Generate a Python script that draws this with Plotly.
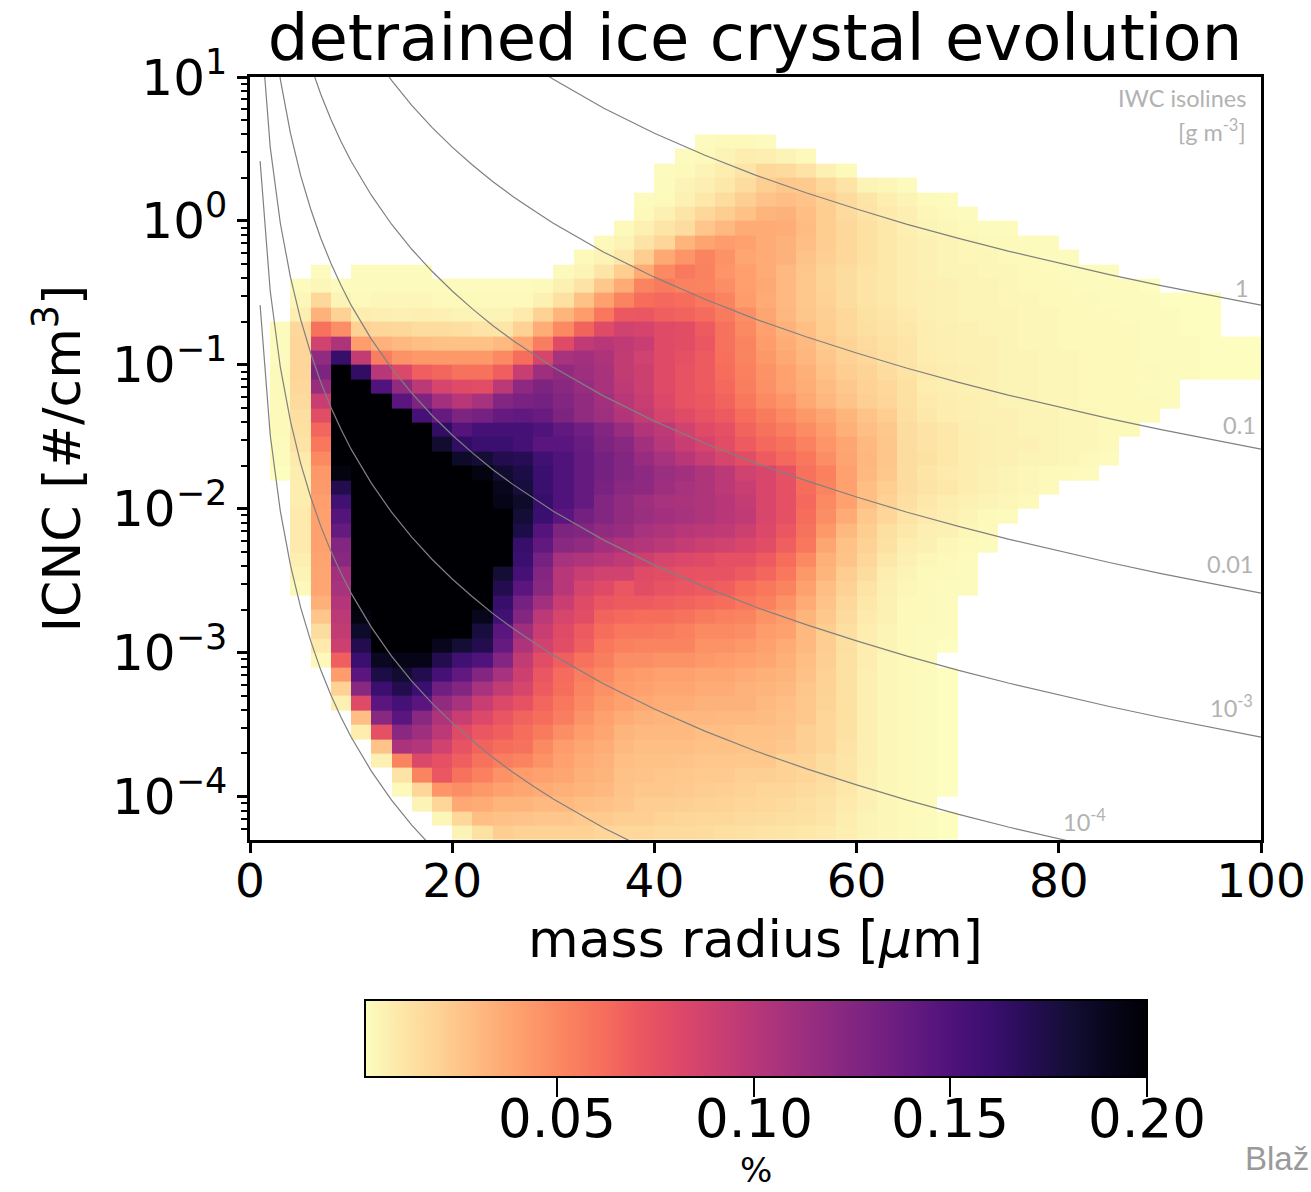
import plotly.graph_objects as go

# ---------- heat map values (unit: 0.001 %), one row per 0.1 decade, top row first ----------
row_first_bin = [22,21,20,20,19,19,18,17,16,3,2,2,2,1,1,1,1,1,1,1,1,1,1,1,2,2,2,2,2,2,2,2,3,3,3,3,3,4,4,4,5,5,6,6,7,7,8,9,10]
row_values = [
 [2,3,3,2],
 [2,3,5,8,7,5,3],
 [2,3,5,8,11,17,16,12,6,3],
 [2,5,7,10,15,21,24,23,17,12,5,4,2],
 [2,3,6,10,15,21,26,28,26,21,16,11,8,5,3,2],
 [3,6,11,17,22,27,32,33,28,22,16,12,9,7,4,3,2],
 [3,6,11,15,25,30,36,36,35,29,22,17,13,10,7,5,4,3,2,2],
 [3,5,12,18,32,39,42,40,36,33,28,22,17,13,10,8,6,5,4,3,3,2,2],
 [3,5,10,22,37,45,52,46,38,36,33,26,21,17,13,10,8,6,5,4,4,3,3,2,2],
 [2,0,2,2,2,2,0,0,0,0,0,0,3,5,11,22,36,50,57,53,45,41,36,30,25,19,15,12,10,8,6,5,5,4,4,3,3,2,2,2],
 [2,4,2,2,2,2,2,2,2,2,2,2,3,6,12,24,36,52,56,53,52,48,41,37,30,24,19,15,12,10,8,7,6,5,5,4,3,3,3,2,2,2,1],
 [4,17,5,3,4,4,4,3,3,3,3,3,6,13,27,40,52,62,64,62,58,52,42,36,30,24,20,15,12,10,8,7,6,5,5,4,4,3,3,3,2,2,2,1,1,1],
 [7,33,20,8,7,6,7,6,5,5,5,9,20,32,42,58,71,72,68,66,63,56,48,38,31,25,21,17,13,11,9,7,6,5,5,5,4,4,3,3,3,2,2,2,1,1],
 [2,17,60,48,20,18,17,15,15,14,12,11,20,35,50,66,80,88,86,80,78,70,60,50,40,33,28,22,17,14,12,10,8,7,6,5,5,4,4,3,3,3,3,2,2,1,1],
 [2,18,88,105,42,33,30,28,27,27,27,30,38,55,80,96,100,96,92,80,78,72,60,52,42,35,30,23,19,16,13,11,8,7,6,6,5,4,4,3,3,3,3,2,2,2,1,1,1],
 [2,18,118,162,95,55,46,44,44,44,44,50,62,85,108,110,105,95,88,80,76,70,61,52,44,37,31,25,20,17,14,11,8,7,6,6,5,5,4,4,3,3,3,2,2,2,1,1,1],
 [3,18,128,200,165,100,82,68,65,60,60,68,92,112,118,112,107,95,90,80,74,70,62,54,46,40,34,27,22,19,15,12,9,8,7,6,5,5,4,4,3,3,3,3,2,2,1,1,1],
 [3,17,115,200,200,150,118,98,85,80,78,98,120,128,122,115,107,97,90,80,74,70,64,55,47,40,35,29,24,20,17,13,8,7,6,6,5,5,4,4,3,3,3,2,2],
 [3,16,92,200,200,200,145,128,110,100,108,125,130,132,125,118,110,100,92,82,74,71,66,58,50,45,37,31,26,21,18,13,9,8,7,6,5,5,4,4,3,3,3,3,2],
 [3,14,78,200,200,200,200,155,140,128,132,140,142,138,128,118,112,103,95,86,80,74,70,62,56,50,44,38,32,26,22,14,10,8,7,6,6,5,5,4,4,3,3,3],
 [3,13,65,200,200,200,200,200,165,148,155,155,155,150,142,135,125,115,103,97,88,80,76,66,60,55,49,42,34,28,24,15,12,10,8,7,6,5,5,4,4,3,3],
 [2,12,58,200,200,200,200,200,182,165,160,160,155,145,145,138,128,122,110,100,92,86,78,70,64,60,53,45,38,30,25,15,12,10,8,7,6,6,5,4,4,3],
 [2,9,50,200,200,200,200,200,200,185,180,172,170,158,150,140,132,125,115,108,100,92,85,78,70,64,58,48,39,31,25,15,13,10,8,7,6,5,5,4,3,2],
 [1,8,44,195,200,200,200,200,200,200,195,182,175,160,150,140,132,125,120,114,110,104,98,88,84,75,60,54,40,30,24,15,11,9,8,6,5,4,3,3,2],
 [8,43,172,200,200,200,200,200,200,200,190,178,160,150,140,130,122,120,112,108,104,98,92,84,76,62,52,40,28,22,15,12,10,8,6,5,4,3],
 [8,41,158,200,200,200,200,200,200,200,192,185,162,150,140,125,118,112,108,106,104,100,94,84,76,64,50,40,28,20,14,10,8,6,5,4,3],
 [9,40,148,200,200,200,200,200,200,200,200,180,160,145,133,125,118,114,110,108,104,100,96,84,76,62,48,36,24,18,12,9,7,5,3,2],
 [9,40,140,200,200,200,200,200,200,200,200,175,148,128,125,118,115,108,104,100,98,96,90,82,72,60,44,30,22,14,10,7,6,4,3],
 [9,40,125,200,200,200,200,200,200,200,200,162,142,122,118,110,105,102,98,94,90,88,84,78,68,58,38,27,20,13,8,6,4,3,2],
 [7,39,122,200,200,200,200,200,200,200,200,160,132,108,104,100,96,90,85,82,80,76,76,70,62,50,34,26,18,10,6,4,3,2],
 [5,38,110,200,200,200,200,200,200,200,180,155,125,100,92,88,88,80,78,75,74,74,70,65,58,44,32,22,15,8,5,3,3,2],
 [3,38,108,200,200,200,200,200,200,200,172,145,122,100,86,80,72,78,74,72,70,68,62,58,52,40,28,20,12,7,4,3,2,2],
 [34,102,200,200,200,200,200,200,200,162,132,110,92,80,72,70,70,68,66,64,62,58,54,46,36,26,17,10,6,3,3,2],
 [25,98,195,200,200,200,200,200,190,158,125,98,85,78,66,64,62,62,60,56,54,52,46,42,32,24,16,9,6,3,3,2],
 [15,95,185,200,200,200,200,200,178,145,112,92,80,70,62,58,58,56,54,50,50,48,42,40,30,22,14,8,5,3,2,2],
 [9,90,172,200,200,200,190,180,172,140,105,88,78,68,58,54,52,52,52,46,46,44,40,36,30,22,14,8,5,3,2,1],
 [3,68,160,188,192,192,172,158,150,125,95,78,68,60,55,48,48,46,46,44,42,40,38,34,28,21,13,8,4,3,2],
 [42,145,175,182,172,155,142,125,108,90,72,63,55,50,44,42,40,40,38,38,36,34,32,27,20,13,7,4,3,2,1],
 [20,122,160,172,160,135,125,108,95,85,70,62,52,47,42,40,38,38,36,36,33,32,30,25,20,13,7,4,3,2,1],
 [6,80,145,155,145,118,108,92,82,75,65,58,50,44,40,37,35,35,33,33,33,30,28,24,19,13,7,4,3,2,1],
 [28,122,145,122,105,92,82,73,66,62,55,46,40,36,33,32,31,31,30,30,29,27,24,18,13,7,4,3,2,1],
 [8,76,122,112,98,80,72,68,62,56,48,42,38,32,30,30,30,28,28,27,27,26,21,18,13,7,4,3,2,1],
 [26,106,102,88,74,66,62,60,50,42,38,35,30,28,28,28,27,27,26,26,24,21,18,12,7,4,3,2,1],
 [6,52,82,76,68,60,55,52,46,40,36,33,28,27,27,26,25,25,24,24,20,19,15,11,7,4,3,2,1],
 [12,52,72,60,54,46,42,40,38,34,32,27,26,25,24,23,23,21,21,20,18,15,11,6,4,3,2,1],
 [3,18,45,48,44,40,38,36,34,32,30,26,24,24,23,22,21,20,18,18,16,14,10,6,4,3,2,1],
 [5,18,37,36,32,32,30,30,28,27,25,22,22,21,20,19,18,17,16,14,12,9,6,4,3,2],
 [4,17,28,27,26,25,25,23,23,21,21,19,18,17,17,16,15,14,13,11,8,5,4,3,2,1],
 [5,13,22,20,20,20,20,18,17,17,16,16,15,14,13,12,11,10,9,7,5,4,3,2,1],
]

# ---------- IWC isolines ----------
iso_radius_1   = [28,30,35,40,45,50,55,60,65,70,75,80,85,90,95,100]
iso_icnc_1     = [11.9,9.64,6.07,4.07,2.86,2.08,1.57,1.21,.948,.759,.617,.509,.424,.357,.304,.26]
iso_radius_01  = [12,14,16,18,20,22,24,26,28,30,35,40,45,50,55,60,65,70,75,80,85,90,95,100]
iso_icnc_01    = [15.1,9.49,6.36,4.47,3.26,2.45,1.88,1.48,1.19,.964,.607,.407,.286,.208,.157,.121,.0948,.0759,.0617,.0509,.0424,.0357,.0304,.026]
iso_radius_001 = [6,7,8,9,10,12,14,16,18,20,22,24,26,28,30,35,40,45,50,55,60,65,70,75,80,85,90,95,100]
iso_icnc_001   = [12.06,7.59,5.09,3.57,2.6,1.51,.949,.636,.447,.326,.245,.188,.148,.119,.0964,.0607,.0407,.0286,.0208,.0157,.0121,.00948,.00759,.00617,.00509,.00424,.00357,.00304,.0026]
iso_radius_e3  = [2,3,4,5,6,7,8,9,10,12,14,16,18,20,22,24,26,28,30,35,40,45,50,55,60,65,70,75,80,85,90,95,100]
iso_icnc_e3    = [32.55,9.64,4.07,2.08,1.21,.759,.509,.357,.26,.151,.0949,.0636,.0447,.0326,.0245,.0188,.0148,.0119,.00964,.00607,.00407,.00286,.00208,.00157,.00121,.000948,.000759,.000617,.000509,.000424,.000357,.000304,.00026]
iso_radius_e4  = [1,2,3,4,5,6,7,8,9,10,12,14,16,18,20,22,24,26,28,30,35,40,45,50,55,60,65,70,75,80,85]
iso_icnc_e4    = [26.04,3.26,.964,.407,.208,.121,.0759,.0509,.0357,.026,.0151,.00949,.00636,.00447,.00326,.00245,.00188,.00148,.00119,.000964,.000607,.000407,.000286,.000208,.000157,.000121,.0000948,.0000759,.0000617,.0000509,.0000424]
iso_radius_e5  = [1,2,3,4,5,6,7,8,9,10,12,14,16,18,20,22,24,26,28,30,35,40]
iso_icnc_e5    = [2.604,.326,.0964,.0407,.0208,.0121,.00759,.00509,.00357,.0026,.00151,.000949,.000636,.000447,.000326,.000245,.000188,.000148,.000119,.0000964,.0000607,.0000407]
iso_radius_e6  = [1,2,3,4,5,6,7,8,9,10,12,14,16,18,20]
iso_icnc_e6    = [.2604,.0326,.00964,.00407,.00208,.00121,.000759,.000509,.000357,.00026,.000151,.0000949,.0000636,.0000447,.0000326]

x_tick_values = [0,20,40,60,80,100]
y_tick_values = [1e-4,1e-3,1e-2,1e-1,1,10]
y_tick_labels = ["10<sup>−4</sup>","10<sup>−3</sup>","10<sup>−2</sup>","10<sup>−1</sup>","10<sup>0</sup>","10<sup>1</sup>"]
cbar_tick_values = [0.05,0.10,0.15,0.20]
cbar_tick_labels = ["0.05","0.10","0.15","0.20"]

magma_r = [[0,"#fcfdbf"],[.05,"#fde5a7"],[.1,"#fecf92"],[.15,"#feb77e"],[.2,"#fe9f6d"],[.25,"#fb8761"],[.3,"#f7705c"],
           [.35,"#ec5860"],[.4,"#de4968"],[.45,"#cb3f71"],[.5,"#b73779"],[.55,"#a1307e"],[.6,"#8c2981"],[.65,"#782281"],
           [.7,"#641a80"],[.75,"#4f127b"],[.8,"#3b0f70"],[.85,"#260d55"],[.9,"#140e36"],[.95,"#07061c"],[1,"#000004"]]

# ---------- assemble grid ----------
n_bins = 50
z = []
for first, vals in zip(row_first_bin, row_values):
    row = [None]*n_bins
    for i, v in enumerate(vals):
        if v:
            row[first+i] = v/1000
    z.append(row)
z = z[::-1]
x_edges = [2*i for i in range(n_bins+1)]
y_edges = [10**((-43+i)/10) for i in range(len(z)+1)]

# pixel helpers
L, R, T, B = 250, 1261, 77, 840
W, H = 1311, 1192
ZMIN, ZMAX = 0.0012, 0.2
BAR_L, BAR_LEN, BAR_T, BAR_H = 365, 782, 1000, 77
def px(x): return (x-L)/(R-L)
def py(y): return (B-y)/(B-T)

fig = go.Figure()
fig.add_trace(go.Heatmap(
    x=x_edges, y=y_edges, z=z, zmin=ZMIN, zmax=ZMAX, colorscale=magma_r, hoverongaps=False,
    colorbar=dict(orientation="h", lenmode="pixels", len=BAR_LEN, thicknessmode="pixels", thickness=BAR_H,
                  x=px(BAR_L), xanchor="left", y=py(BAR_T), yanchor="top", xpad=0, ypad=0,
                  outlinecolor="black", outlinewidth=2,
                  tickmode="array", tickvals=cbar_tick_values, showticklabels=False,
                  ticks="outside", ticklen=19, tickwidth=2, tickcolor="black")))

isolines = [(iso_radius_1, iso_icnc_1),(iso_radius_01, iso_icnc_01),(iso_radius_001, iso_icnc_001),
            (iso_radius_e3, iso_icnc_e3),(iso_radius_e4, iso_icnc_e4),(iso_radius_e5, iso_icnc_e5),(iso_radius_e6, iso_icnc_e6)]
for rr, nn in isolines:
    fig.add_trace(go.Scatter(x=rr, y=nn, mode="lines", line=dict(color="#808080", width=1.2), showlegend=False, hoverinfo="skip"))

GREY = "#b2b2b2"
notes = [("IWC isolines",1248,98,"right"),("[g m<sup>-3</sup>]",1248,130,"right"),("1",1251,288,"right"),
         ("0.1",1258,425,"right"),("0.01",1255,564,"right"),("10<sup>-3</sup>",1255,706,"right"),("10<sup>-4</sup>",1108,820,"right")]
annots = [dict(text=t, x=px(x), y=py(y), xref="paper", yref="paper", xanchor=a, yanchor="middle", showarrow=False,
               font=dict(family="Lato, Open Sans", size=23.5, color=GREY)) for t,x,y,a in notes]
annots.append(dict(text="Blaž", x=px(1243), y=py(1158), xref="paper", yref="paper", xanchor="left", yanchor="middle",
                   showarrow=False, font=dict(family="Liberation Sans", size=33, color="#9a9a9a")))
# colourbar tick labels and unit, placed on the colourbar's own value scale
for v, lab in zip(cbar_tick_values, cbar_tick_labels):
    xp = BAR_L + (v-ZMIN)/(ZMAX-ZMIN)*BAR_LEN
    annots.append(dict(text=lab, x=px(xp), y=py(1118), xref="paper", yref="paper", xanchor="center", yanchor="middle",
                       showarrow=False, font=dict(size=53, color="black")))
annots.append(dict(text="%", x=px(756), y=py(1170), xref="paper", yref="paper", xanchor="center", yanchor="middle",
                   showarrow=False, font=dict(size=34, color="black")))

fig.update_layout(
    width=W, height=H, paper_bgcolor="white", plot_bgcolor="white",
    margin=dict(l=L, r=W-R, t=T, b=H-B, pad=0, autoexpand=False), showlegend=False,
    font=dict(family="DejaVu Sans", color="black"),
    title=dict(text="detrained ice crystal evolution", x=755/W, xanchor="center", y=1-38/H, yanchor="middle",
               font=dict(size=64, color="black")),
    annotations=annots,
    xaxis=dict(range=[0,100], tickmode="array", tickvals=x_tick_values, ticks="outside", ticklen=10, tickwidth=2.5,
               tickcolor="black", showgrid=False, zeroline=False, showline=True, linecolor="black", linewidth=2.5, mirror=True,
               tickfont=dict(size=47), ticklabelstandoff=-12,
               title=dict(text="mass radius [<i>μ</i>m]", font=dict(size=52), standoff=14)),
    yaxis=dict(type="log", range=[-4.3,1], tickmode="array", tickvals=y_tick_values, ticktext=y_tick_labels, ticks="outside",
               ticklen=10, tickwidth=2.5, tickcolor="black", showgrid=False, zeroline=False, showline=True, linecolor="black",
               linewidth=2.5, mirror=True, tickfont=dict(size=50),
               minor=dict(ticks="outside", ticklen=6, tickwidth=2, tickcolor="black", dtick="D1", showgrid=False),
               title=dict(text="ICNC [#/cm<sup>3</sup>]", font=dict(size=52), standoff=15)),
)
fig.write_html("out.html", post_script="document.body.style.margin='0';document.body.style.overflow='hidden';", config={"displayModeBar": False})
